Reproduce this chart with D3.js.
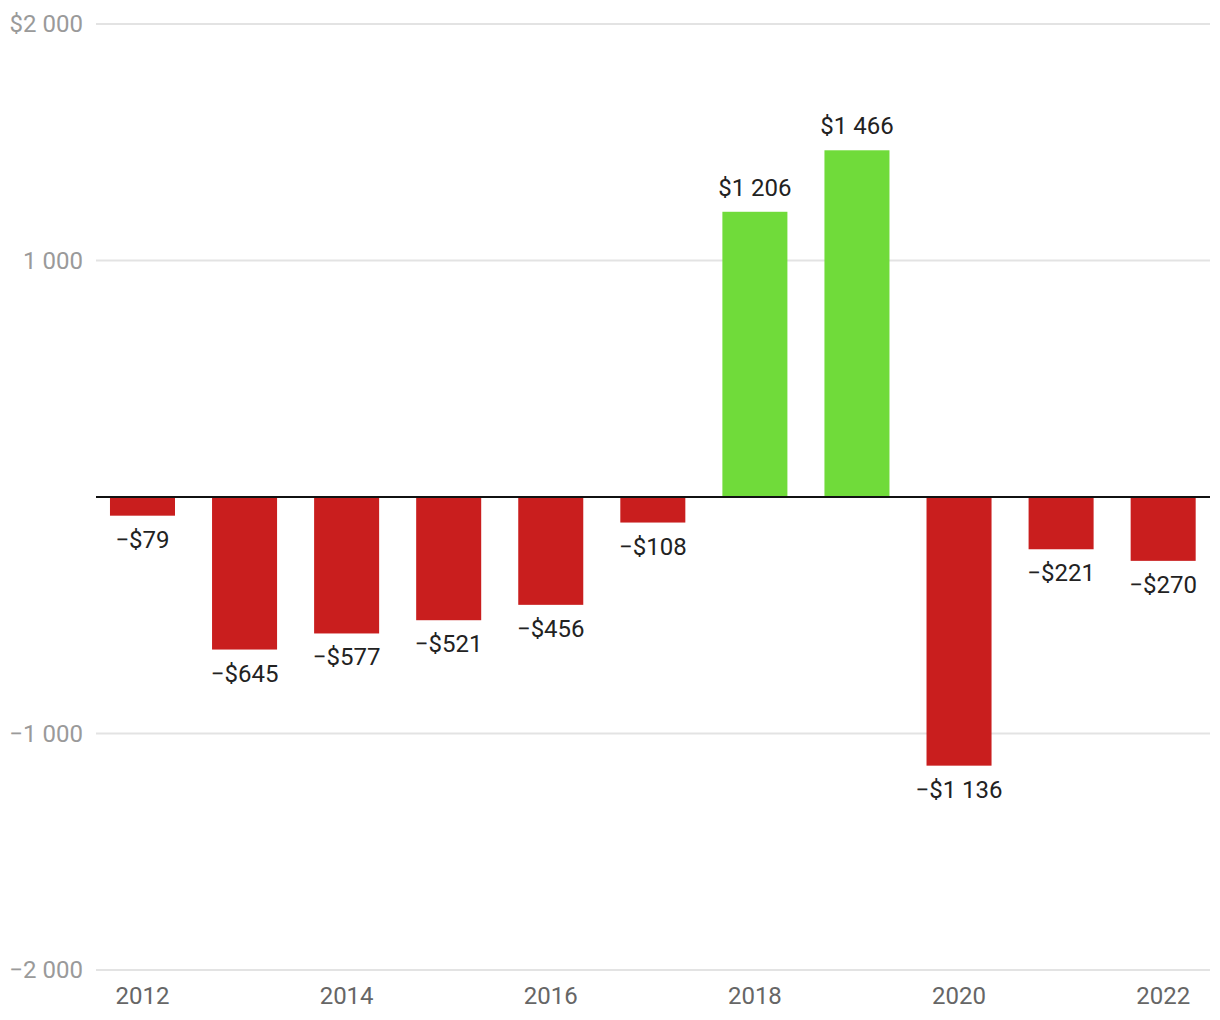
<!DOCTYPE html>
<html><head><meta charset="utf-8">
<script src="https://cdn.jsdelivr.net/npm/d3@7"></script>
<style>body{margin:0;background:#fff;} svg{display:block;font-family:Roboto, "Noto Sans", sans-serif;}</style>
</head><body>
<svg id="c" width="1220" height="1020"></svg>
<script>
const years = [2012,2013,2014,2015,2016,2017,2018,2019,2020,2021,2022];
const values = [-79,-645,-577,-521,-456,-108,1206,1466,-1136,-221,-270];
const yTicks = [2000,1000,-1000,-2000];
const yTickLabels = ["$2 000","1 000","\u22121 000","\u22122 000"];
const xTickYears = [2012,2014,2016,2018,2020,2022];

const svg = d3.select("#c");
const x = d3.scaleBand().domain(years).range([91.45,1214.2]).paddingInner(0.363).paddingOuter(0.1815);
const y = d3.scaleLinear().domain([-2000,2000]).range([970,24]);

const fmt = v => (v<0?"\u2212":"") + "$" + d3.format(",")(Math.abs(v)).replace(/,/g," ");

// gridlines
svg.append("g").selectAll("line").data(yTicks).join("line")
  .attr("x1",96).attr("x2",1210).attr("y1",d=>y(d)).attr("y2",d=>y(d))
  .attr("stroke","#e3e3e3").attr("stroke-width",2);

// y labels
svg.append("g").selectAll("text").data(yTicks).join("text")
  .attr("x",83).attr("y",d=>y(d)).attr("dy","0.35em").attr("text-anchor","end")
  .attr("fill","#9a9a9a").attr("font-size",24).text((d,i)=>yTickLabels[i]);

// bars
svg.append("g").selectAll("rect").data(values).join("rect")
  .attr("x",(d,i)=>x(years[i])).attr("width",x.bandwidth())
  .attr("y",d=>y(Math.max(0,d))).attr("height",d=>Math.abs(y(d)-y(0)))
  .attr("fill",d=>d>=0?"#70db3a":"#c91e1e");

// baseline
svg.append("line").attr("x1",96).attr("x2",1210).attr("y1",y(0)).attr("y2",y(0))
  .attr("stroke","#111").attr("stroke-width",2);

// value labels
svg.append("g").selectAll("text").data(values).join("text")
  .attr("x",(d,i)=>x(years[i])+x.bandwidth()/2)
  .attr("y",d=>d>=0? y(d)-16 : y(d)+32)
  .attr("text-anchor","middle").attr("fill","#222").attr("font-size",24)
  .text(d=>fmt(d));

// x labels
svg.append("g").selectAll("text").data(xTickYears).join("text")
  .attr("x",d=>x(d)+x.bandwidth()/2).attr("y",1004).attr("text-anchor","middle")
  .attr("fill","#666").attr("font-size",24).text(d=>d);
</script>
</body></html>
